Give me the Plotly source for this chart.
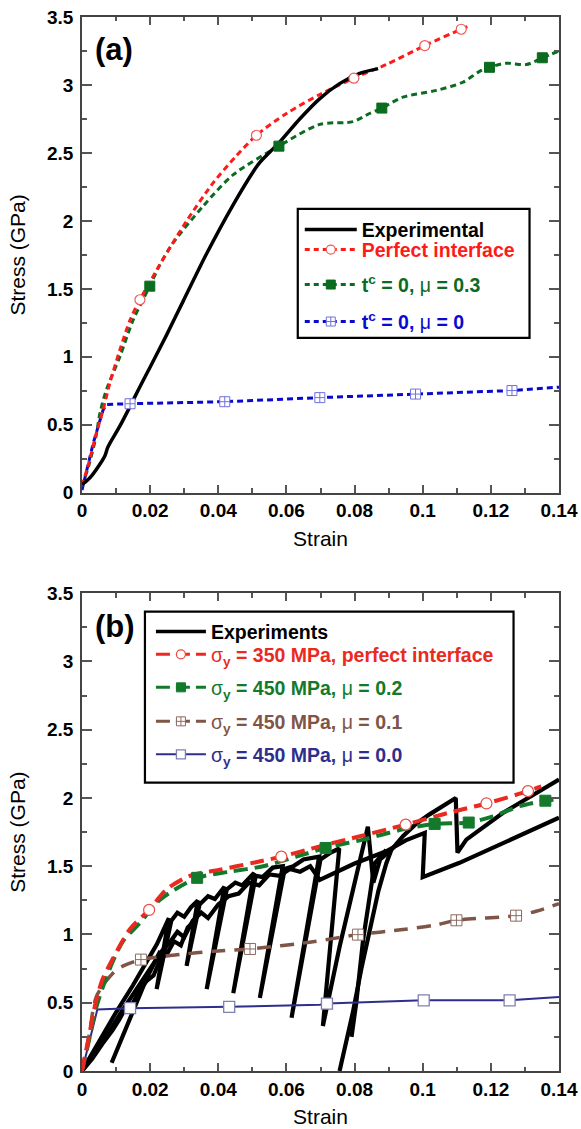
import plotly.graph_objects as go

# ---------------- panel (a) data ----------------
a_exp_x = [0, 0.0015, 0.003, 0.005, 0.0067, 0.0075, 0.0082, 0.0111, 0.0141, 0.0170, 0.0199,
           0.0248, 0.0297, 0.0366, 0.0444, 0.0502, 0.0522, 0.0580, 0.0639, 0.0698, 0.0756,
           0.0815, 0.0869]
a_exp_y = [0.06, 0.09, 0.13, 0.20, 0.27, 0.33, 0.365, 0.49, 0.635, 0.78, 0.92,
           1.16, 1.41, 1.76, 2.12, 2.36, 2.43, 2.58, 2.75, 2.90, 3.01,
           3.085, 3.12]

a_perf_x = [0, 0.002, 0.004, 0.0062, 0.0082, 0.0111, 0.0141, 0.0170, 0.0229, 0.0255, 0.0307,
            0.0385, 0.0450, 0.0512, 0.0600, 0.0698, 0.0798, 0.0893, 0.1006, 0.1113, 0.1142]
a_perf_y = [0.05, 0.22, 0.42, 0.61, 0.81, 1.05, 1.27, 1.42, 1.68, 1.79, 2.00,
            2.28, 2.47, 2.63, 2.79, 2.93, 3.05, 3.15, 3.29, 3.41, 3.44]
a_perf_mx = [0.0170, 0.0512, 0.0798, 0.1006, 0.1113]
a_perf_my = [1.42, 2.63, 3.05, 3.29, 3.41]

a_mu3_x = [0, 0.002, 0.004, 0.0053, 0.0072, 0.0111, 0.0150, 0.0199, 0.0229, 0.0268, 0.0356,
           0.0444, 0.0578, 0.0698, 0.0795, 0.0844, 0.0880, 0.0942, 0.1040, 0.1118, 0.1167,
           0.1196, 0.1245, 0.1304, 0.1351, 0.1400]
a_mu3_y = [0.05, 0.20, 0.40, 0.59, 0.76, 1.00, 1.27, 1.52, 1.68, 1.84, 2.11,
           2.34, 2.55, 2.71, 2.73, 2.79, 2.83, 2.91, 2.96, 3.02, 3.10,
           3.13, 3.16, 3.15, 3.20, 3.25]
a_mu3_mx = [0.0199, 0.0578, 0.0880, 0.1196, 0.1351]
a_mu3_my = [1.52, 2.55, 2.83, 3.13, 3.20]

a_mu0_x = [0, 0.0033, 0.0062, 0.0072, 0.0141, 0.0287, 0.0419, 0.0698, 0.0979, 0.1262, 0.1400]
a_mu0_y = [0.02, 0.365, 0.61, 0.65, 0.655, 0.664, 0.670, 0.700, 0.726, 0.752, 0.777]
a_mu0_mx = [0.0141, 0.0419, 0.0698, 0.0979, 0.1262]
a_mu0_my = [0.655, 0.670, 0.700, 0.726, 0.752]

# ---------------- panel (b) data ----------------
# cyclic experiments (several load/unload records)
b_exp1_x = [0, 0.005, 0.010, 0.015, 0.019, 0.022, 0.0255, 0.0219, 0.0262, 0.028, 0.030, 0.032,
            0.034, 0.0307, 0.0345, 0.037, 0.039, 0.0418, 0.0366, 0.0425, 0.045, 0.047, 0.0505,
            0.0444, 0.051, 0.053, 0.056, 0.0589, 0.0522, 0.0595, 0.062, 0.065, 0.0696, 0.0615,
            0.0700, 0.073, 0.0755, 0.0707, 0.0756, 0.0805, 0.0839, 0.0855, 0.0875, 0.0908]
b_exp1_y = [0, 0.22, 0.43, 0.63, 0.80, 0.93, 1.12, 0.60, 1.10, 1.16, 1.13, 1.20,
            1.25, 0.77, 1.22, 1.28, 1.26, 1.35, 0.60, 1.33, 1.38, 1.36, 1.45,
            0.57, 1.43, 1.42, 1.49, 1.50, 0.535, 1.48, 1.50, 1.55, 1.57, 0.39,
            1.55, 1.60, 1.63, 0.33, 0.91, 1.43, 1.79, 1.38, 1.55, 1.62]
b_exp2_x = [0, 0.004, 0.008, 0.012, 0.016, 0.019, 0.021, 0.0235, 0.026, 0.028, 0.030, 0.0325,
            0.035, 0.037, 0.040, 0.043, 0.046, 0.049, 0.052, 0.055, 0.058, 0.061, 0.064,
            0.067, 0.0698, 0.075, 0.080, 0.0893, 0.095, 0.1006, 0.1000, 0.1108, 0.1235, 0.1400]
b_exp2_y = [0, 0.14, 0.29, 0.45, 0.60, 0.70, 0.78, 0.88, 0.95, 1.02, 0.98, 1.10,
            1.16, 1.12, 1.22, 1.28, 1.30, 1.38, 1.36, 1.44, 1.43, 1.48, 1.46,
            1.50, 1.40, 1.46, 1.52, 1.61, 1.69, 1.745, 1.42, 1.525, 1.67, 1.855]
b_exp3_x = [0, 0.003, 0.006, 0.009, 0.011, 0.013, 0.015, 0.017, 0.019, 0.021, 0.023, 0.025,
            0.027, 0.029, 0.031, 0.033]
b_exp3_y = [0, 0.09, 0.20, 0.30, 0.38, 0.47, 0.50, 0.60, 0.66, 0.70, 0.82, 0.86,
            0.95, 0.92, 1.05, 1.10]
b_exp4_x = [0.0087, 0.011, 0.013, 0.015, 0.017, 0.019, 0.021, 0.023]
b_exp4_y = [0.06, 0.20, 0.33, 0.45, 0.57, 0.68, 0.78, 0.88]
b_exp5_x = [0.0791, 0.0805, 0.0825, 0.0845, 0.0859, 0.0893]
b_exp5_y = [0.25, 0.50, 0.96, 1.30, 1.52, 1.62]
b_exp6_x = [0.0756, 0.077, 0.078, 0.0795, 0.082, 0.0844, 0.087, 0.0893, 0.0908, 0.0942, 0.098,
            0.102, 0.106, 0.1097, 0.1102, 0.1128, 0.1235, 0.1333, 0.1400]
b_exp6_y = [0, 0.15, 0.25, 0.43, 0.75, 1.04, 1.32, 1.52, 1.62, 1.72, 1.81,
            1.88, 1.94, 2.00, 1.60, 1.695, 1.89, 2.04, 2.135]

b_s350_x = [0, 0.002, 0.004, 0.006, 0.009, 0.0141, 0.0197, 0.0248, 0.0317, 0.0405, 0.0502,
            0.0585, 0.0698, 0.0776, 0.0950, 0.1089, 0.1187, 0.1309, 0.1348]
b_s350_y = [0, 0.25, 0.50, 0.67, 0.82, 1.04, 1.18, 1.33, 1.43, 1.475, 1.525,
            1.57, 1.646, 1.695, 1.805, 1.90, 1.96, 2.05, 2.085]
b_s350_mx = [0.0197, 0.0585, 0.0950, 0.1187, 0.1309]
b_s350_my = [1.18, 1.57, 1.805, 1.96, 2.05]

b_mu2_x = [0, 0.002, 0.004, 0.0062, 0.009, 0.012, 0.017, 0.0229, 0.0338, 0.0434, 0.0532,
           0.0629, 0.0715, 0.0825, 0.0942, 0.1035, 0.1135, 0.1206, 0.1284, 0.1360, 0.1400]
b_mu2_y = [0, 0.22, 0.45, 0.62, 0.80, 0.95, 1.085, 1.255, 1.415, 1.46, 1.50,
           1.57, 1.634, 1.695, 1.77, 1.81, 1.82, 1.865, 1.94, 1.98, 1.99]
b_mu2_mx = [0.0338, 0.0715, 0.1035, 0.1135, 0.1360]
b_mu2_my = [1.415, 1.634, 1.81, 1.82, 1.98]

b_mu1_x = [0, 0.002, 0.0043, 0.0092, 0.0121, 0.0173, 0.0287, 0.0385, 0.0493, 0.0668, 0.0810,
           0.0942, 0.1040, 0.1099, 0.1274, 0.1333, 0.1400]
b_mu1_y = [0, 0.25, 0.55, 0.72, 0.77, 0.816, 0.853, 0.877, 0.894, 0.943, 0.999,
           1.036, 1.07, 1.104, 1.138, 1.17, 1.226]
b_mu1_mx = [0.0173, 0.0493, 0.0810, 0.1099, 0.1274]
b_mu1_my = [0.816, 0.894, 0.999, 1.104, 1.138]

b_mu0_x = [0, 0.0045, 0.0141, 0.0432, 0.0698, 0.0719, 0.1003, 0.1255, 0.1400]
b_mu0_y = [0, 0.45, 0.46, 0.47, 0.486, 0.494, 0.518, 0.518, 0.543]
b_mu0_mx = [0.0141, 0.0432, 0.0719, 0.1003, 0.1255]
b_mu0_my = [0.46, 0.47, 0.494, 0.518, 0.518]

# ---------------- figure geometry ----------------
W, H = 581, 1129
ML, MR, MT, MB = 82, 21.5, 17, 57.5
PW = W - ML - MR
PH = H - MT - MB
FONT = "Liberation Sans, Arial, Helvetica, sans-serif"


def px_x(px):
    return (px - ML) / PW


def px_y(py):
    return 1 - (py - MT) / PH


fig = go.Figure()


def curve(x, y, color, width, dash, xa, ya, shape="linear"):
    fig.add_trace(go.Scatter(x=x, y=y, mode="lines", xaxis=xa, yaxis=ya, showlegend=False,
                             line=dict(color=color, width=width, dash=dash, shape=shape,
                                       smoothing=0.8),
                             hoverinfo="skip"))


def marks(x, y, symbol, size, fill, edge, edge_w, xa, ya):
    fig.add_trace(go.Scatter(x=x, y=y, mode="markers", xaxis=xa, yaxis=ya, showlegend=False,
                             marker=dict(symbol=symbol, size=size, color=fill,
                                         line=dict(color=edge, width=edge_w)),
                             hoverinfo="skip"))


def key(name, legend, color, width, dash, symbol=None, size=0, fill=None, edge=None, edge_w=1):
    tr = dict(x=[None], y=[None], name=name, legend=legend, showlegend=True,
              line=dict(color=color, width=width, dash=dash))
    if symbol:
        tr["mode"] = "lines+markers"
        tr["marker"] = dict(symbol=symbol, size=size, color=fill, line=dict(color=edge, width=edge_w))
    else:
        tr["mode"] = "lines"
    fig.add_trace(go.Scatter(**tr))


# panel (a)
RED_A, GRN_A, BLU_A = "#FF1A1A", "#0B6B1F", "#0A0ACF"
DASH_A = "6px,4px"
curve(a_mu0_x, a_mu0_y, BLU_A, 3, DASH_A, "x", "y")
curve(a_mu3_x, a_mu3_y, GRN_A, 3, DASH_A, "x", "y", "spline")
curve(a_perf_x, a_perf_y, RED_A, 3, DASH_A, "x", "y", "spline")
curve(a_exp_x, a_exp_y, "black", 3.5, "solid", "x", "y", "spline")
marks(a_perf_mx, a_perf_my, "circle", 10, "white", "#F05A5A", 1.2, "x", "y")
marks(a_mu3_mx, a_mu3_my, "square", 10, GRN_A, GRN_A, 1, "x", "y")
marks(a_mu0_mx, a_mu0_my, "square-cross", 10, "white", "#7070E0", 1, "x", "y")

# panel (b)
RED_B, GRN_B, BRN_B, NAV_B = "#EA2A20", "#137A2C", "#7E5546", "#2E2E8C"
for bx, by in [(b_exp3_x, b_exp3_y), (b_exp4_x, b_exp4_y), (b_exp1_x, b_exp1_y),
               (b_exp2_x, b_exp2_y), (b_exp5_x, b_exp5_y), (b_exp6_x, b_exp6_y)]:
    curve(bx, by, "black", 4.2, "solid", "x2", "y2")
curve(b_mu0_x, b_mu0_y, NAV_B, 2, "solid", "x2", "y2")
curve(b_mu1_x, b_mu1_y, BRN_B, 3.5, "14px,9px", "x2", "y2", "spline")
curve(b_mu2_x, b_mu2_y, GRN_B, 4, "14px,7px", "x2", "y2", "spline")
curve(b_s350_x, b_s350_y, RED_B, 4, "14px,7px", "x2", "y2", "spline")
marks(b_s350_mx, b_s350_my, "circle", 11, "white", "#EA4A40", 1.2, "x2", "y2")
marks(b_mu2_mx, b_mu2_my, "square", 11, GRN_B, GRN_B, 1, "x2", "y2")
marks(b_mu1_mx, b_mu1_my, "square-cross", 11, "white", "#8C6A60", 1, "x2", "y2")
marks(b_mu0_mx, b_mu0_my, "square", 11, "white", "#8080B0", 1.3, "x2", "y2")

# legend entries (one legend per entry so each line sits where it is drawn)
NW = '<span style="font-weight:normal">'
key("Experimental", "legend", "black", 3.5, "solid")
key("Perfect interface", "legend2", RED_A, 3, "5px,4px", "circle", 9, "white", "#F05A5A", 1.2)
key("t<sup>c</sup> = 0, " + NW + "μ</span> = 0.3", "legend3", GRN_A, 3, "5px,4px",
    "square", 9, GRN_A, GRN_A, 1)
key("t<sup>c</sup> = 0, " + NW + "μ</span> = 0", "legend4", BLU_A, 3, "5px,4px",
    "square-cross", 9, "white", "#7070E0", 1)
key("Experiments", "legend5", "black", 3.5, "solid")
key(NW + "σ</span><sub>y</sub> = 350 MPa, perfect interface", "legend6", RED_B, 3, "14px,6px",
    "circle", 9, "white", "#EA4A40", 1.2)
key(NW + "σ</span><sub>y</sub> = 450 MPa, " + NW + "μ</span> = 0.2", "legend7", GRN_B, 3, "14px,6px",
    "square", 9, GRN_B, GRN_B, 1)
key(NW + "σ</span><sub>y</sub> = 450 MPa, " + NW + "μ</span> = 0.1", "legend8", BRN_B, 3, "14px,6px",
    "square-cross", 9, "white", "#8C6A60", 1)
key(NW + "σ</span><sub>y</sub> = 450 MPa, " + NW + "μ</span> = 0.0", "legend9", NAV_B, 2, "solid",
    "square", 9, "white", "#8080B0", 1.3)

legend_rows = [
    ("legend", 300, 230, "black", 52), ("legend2", 300, 250, RED_A, 52),
    ("legend3", 300, 285, GRN_A, 52), ("legend4", 300, 322, BLU_A, 52),
    ("legend5", 151, 632, "black", 50), ("legend6", 151, 655, RED_B, 50),
    ("legend7", 151, 688, GRN_B, 50), ("legend8", 151, 722, BRN_B, 50),
    ("legend9", 151, 755, NAV_B, 50),
]
legends = {}
for lid, lx, ly, col, iw in legend_rows:
    legends[lid] = dict(x=px_x(lx), y=px_y(ly), xanchor="left", yanchor="middle",
                        bgcolor="rgba(0,0,0,0)", borderwidth=0, itemwidth=iw,
                        font=dict(family=FONT, size=19.5, color=col, weight="bold"))

tick_font = dict(family=FONT, size=19, color="black", weight="bold")
title_font = dict(family=FONT, size=21, color="black")


def xaxis(domain_anchor):
    return dict(range=[0, 0.14], dtick=0.02, tick0=0, ticks="inside", ticklen=8, tickwidth=1.5,
                tickcolor="#555", showline=True, linecolor="#444", linewidth=1.6, mirror="ticks",
                showgrid=False, zeroline=False, tickfont=tick_font, anchor=domain_anchor,
                minor=dict(dtick=0.01, ticks="inside", ticklen=4.5, tickwidth=1.5, tickcolor="#555"),
                title=dict(text="Strain", font=title_font, standoff=11))


def yaxis(domain, anchor):
    return dict(range=[0, 3.5], dtick=0.5, tick0=0, ticks="inside", ticklen=10, tickwidth=1.5,
                tickcolor="#555", showline=True, linecolor="#444", linewidth=1.6, mirror="ticks",
                showgrid=False, zeroline=False, tickfont=tick_font, domain=domain, anchor=anchor,
                ticklabelstandoff=3,
                minor=dict(dtick=0.25, ticks="inside", ticklen=5, tickwidth=1.5, tickcolor="#555"),
                title=dict(text="Stress (GPa)", font=title_font, standoff=16))


top_dom = [1 - 476 / PH, 1]
bot_dom = [0, 478 / PH]

fig.update_layout(
    width=W, height=H, margin=dict(l=ML, r=MR, t=MT, b=MB, autoexpand=False),
    paper_bgcolor="white", plot_bgcolor="white", font=dict(family=FONT),
    xaxis=xaxis("y"), yaxis=yaxis(top_dom, "x"),
    xaxis2=xaxis("y2"), yaxis2=yaxis(bot_dom, "x2"),
    annotations=[
        dict(text="<b>(a)</b>", x=px_x(114), y=px_y(50), xref="paper", yref="paper",
             showarrow=False, xanchor="center", yanchor="middle",
             font=dict(family=FONT, size=31, color="black")),
        dict(text="<b>(b)</b>", x=px_x(115), y=px_y(627), xref="paper", yref="paper",
             showarrow=False, xanchor="center", yanchor="middle",
             font=dict(family=FONT, size=31, color="black")),
    ],
    shapes=[
        dict(type="rect", xref="paper", yref="paper", x0=px_x(298), x1=px_x(530),
             y0=px_y(338), y1=px_y(209), line=dict(color="black", width=2.2)),
        dict(type="rect", xref="paper", yref="paper", x0=px_x(145), x1=px_x(514),
             y0=px_y(783), y1=px_y(612), line=dict(color="black", width=2.2)),
    ],
    **legends,
)

fig.write_html("out.html")
